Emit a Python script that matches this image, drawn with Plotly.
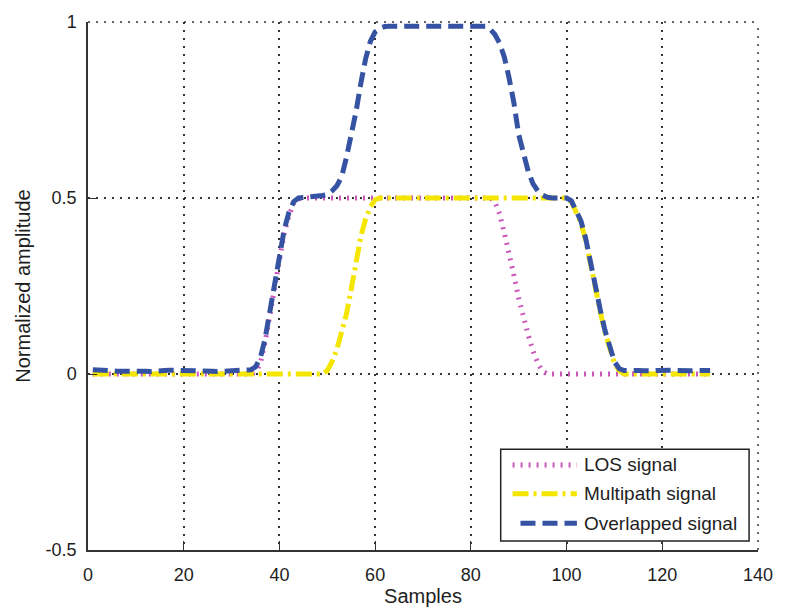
import plotly.graph_objects as go

# Sample index (1..130)
samples = list(range(1, 131))

# Line-of-sight component
los_signal = (
    [0.0] * 34
    + [0.005, 0.03, 0.09, 0.17, 0.25, 0.33, 0.40, 0.45, 0.485, 0.498]
    + [0.5] * 40
    + [0.49, 0.455, 0.40, 0.345, 0.28, 0.215, 0.16, 0.11, 0.065, 0.03, 0.008]
    + [0.0] * 35
)

# Delayed multipath component
multipath_signal = (
    [0.0] * 49
    + [0.01, 0.035, 0.07, 0.115, 0.17, 0.24, 0.32, 0.39, 0.44, 0.475, 0.495]
    + [0.5] * 40
    + [0.49, 0.46, 0.43, 0.38, 0.31, 0.245, 0.18, 0.12, 0.07, 0.03, 0.01]
    + [0.0] * 19
)

# Received (overlapped) signal
overlapped_signal = (
    [0.012, 0.012, 0.011, 0.010, 0.009, 0.008, 0.008, 0.009, 0.010, 0.011,
     0.010, 0.008, 0.007, 0.007, 0.008, 0.010, 0.011, 0.011, 0.010, 0.009,
     0.008, 0.009, 0.010, 0.011, 0.010, 0.008, 0.007, 0.008, 0.009, 0.010,
     0.010, 0.009, 0.010, 0.012]
    + [0.02, 0.045, 0.10, 0.18, 0.26, 0.34, 0.41, 0.46, 0.49, 0.5]
    + [0.501, 0.502, 0.503, 0.505, 0.507]
    + [0.51, 0.52, 0.535, 0.56, 0.615, 0.675, 0.745, 0.825, 0.895, 0.945,
       0.972, 0.982, 0.987]
    + [0.988] * 21
    + [0.98, 0.965, 0.94, 0.9, 0.84, 0.77, 0.68, 0.62, 0.575, 0.54, 0.52,
       0.508, 0.502]
    + [0.5] * 4
    + [0.492, 0.465, 0.435, 0.385, 0.315, 0.25, 0.185, 0.125, 0.075, 0.035,
       0.015, 0.01]
    + [0.010, 0.011, 0.010, 0.009, 0.008, 0.009, 0.010, 0.011, 0.012, 0.011,
       0.010, 0.009, 0.008, 0.009, 0.010, 0.011, 0.010, 0.010]
)

series_names = ["LOS signal", "Multipath signal", "Overlapped signal"]
x_ticks = [0, 20, 40, 60, 80, 100, 120, 140]
y_ticks = [-0.5, 0, 0.5, 1]
y_tick_text = ["-0.5", "0", "0.5", "1"]

FONT = "Liberation Sans, Arial, sans-serif"
TXT = "#1e1e1e"
GRID_DASH = "2px,6px"
GRID_COLOR = "#333"
styles = [
    dict(color="#cc55bb", width=5, dash="2px,6px"),
    dict(color="#f4e600", width=5, dash="16px,5px,3px,5px"),
    dict(color="#3653a3", width=5, dash="15px,7px"),
]

fig = go.Figure()
for name, ys, st in zip(series_names,
                        [los_signal, multipath_signal, overlapped_signal],
                        styles):
    fig.add_trace(go.Scatter(x=samples, y=ys, mode="lines", name=name,
                             line=st, showlegend=False))

W, H = 785, 615
ML, MR, MT, MB = 88, 20, 20, 61
PW, PH = W - ML - MR, H - MT - MB


def px_x(p):
    return (p - ML) / PW


def px_y(p):
    return (H - MB - p) / PH


# Dotted grid lines along the open top and right edges of the axes
shapes = [
    dict(type="line", xref="paper", yref="paper", x0=0, x1=1, y0=1, y1=1,
         line=dict(color=GRID_COLOR, width=1.5, dash=GRID_DASH), layer="below"),
    dict(type="line", xref="paper", yref="paper", x0=1, x1=1, y0=0, y1=1,
         line=dict(color=GRID_COLOR, width=1.5, dash=GRID_DASH), layer="below"),
]

# Boxed legend in the lower right of the axes
shapes.append(dict(type="rect", xref="paper", yref="paper",
                   x0=px_x(505), x1=px_x(756), y0=px_y(545), y1=px_y(452),
                   fillcolor="white", line=dict(color="#222", width=1.5),
                   layer="above"))
annotations = []
rows_y = [468, 497, 527]
starts = [517, 517, 525]
for name, st, ry, sx in zip(series_names, styles, rows_y, starts):
    shapes.append(dict(type="line", xref="paper", yref="paper",
                       x0=px_x(sx), x1=px_x(582), y0=px_y(ry), y1=px_y(ry),
                       line=st, layer="above"))
    annotations.append(dict(xref="paper", yref="paper", x=px_x(587),
                            y=px_y(ry), text=name, showarrow=False,
                            xanchor="left", yanchor="middle",
                            font=dict(family=FONT, size=19, color=TXT)))

grid = dict(showgrid=True, gridcolor=GRID_COLOR, gridwidth=1.5,
            griddash=GRID_DASH, zeroline=False, showline=True,
            linecolor="#333", linewidth=1.5, ticks="inside", ticklen=9,
            tickcolor="#333", tickwidth=1,
            tickfont=dict(family=FONT, size=18, color=TXT), mirror=False)

fig.update_layout(
    width=W, height=H,
    margin=dict(l=ML, r=MR, t=MT, b=MB),
    paper_bgcolor="white", plot_bgcolor="white",
    shapes=shapes, annotations=annotations,
    xaxis=dict(range=[0, 140], tickvals=x_ticks, ticklabelstandoff=8,
               title=dict(text="Samples", standoff=4,
                          font=dict(family=FONT, size=20, color=TXT)),
               **grid),
    yaxis=dict(range=[-0.5, 1], tickvals=y_ticks, ticktext=y_tick_text,
               ticklabelstandoff=6,
               title=dict(text="Normalized amplitude", standoff=10,
                          font=dict(family=FONT, size=20, color=TXT)),
               **grid),
)

fig.write_html("out.html")
